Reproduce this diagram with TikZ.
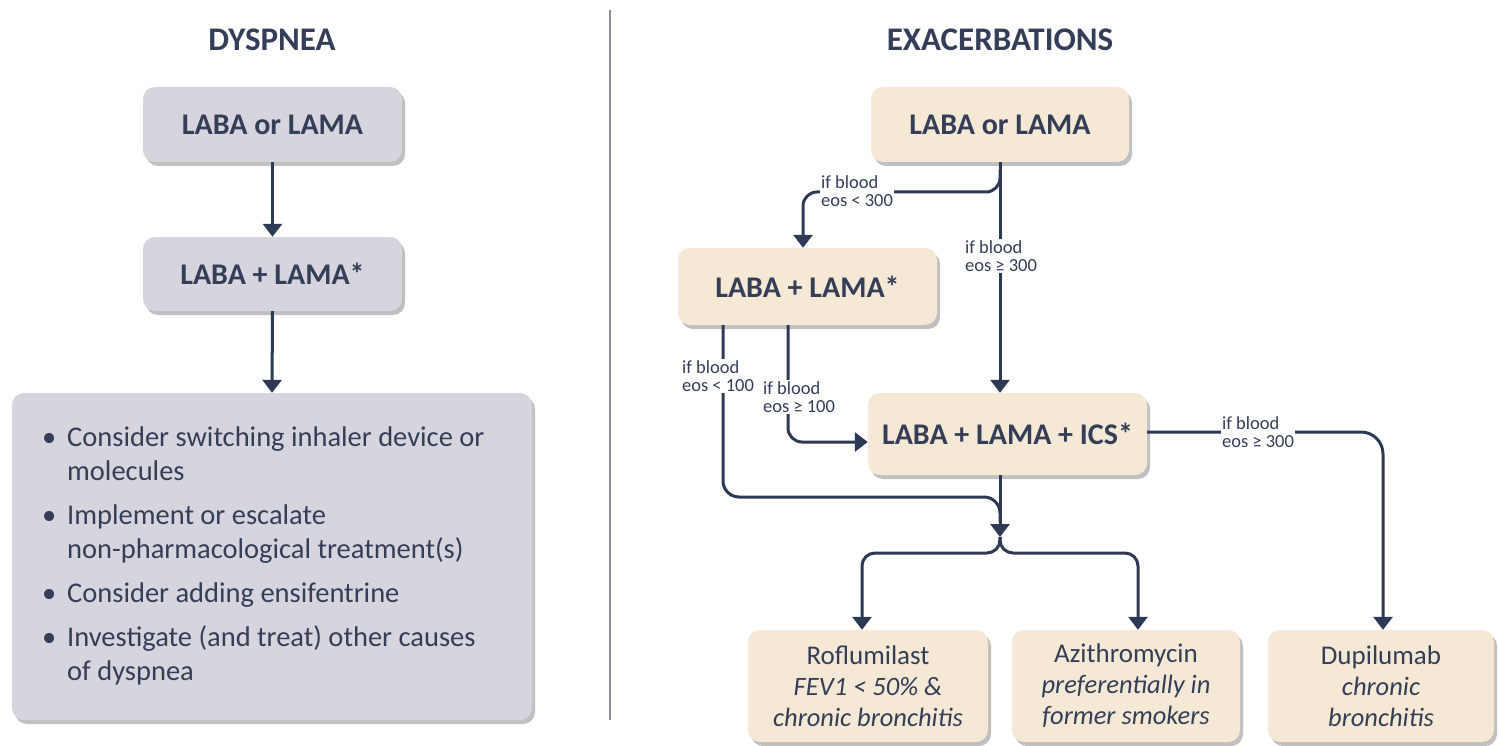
\documentclass[tikz,border=0pt]{standalone}
\usepackage{fontspec}
\setmainfont{Carlito}
\usetikzlibrary{arrows.meta,shadows}
\definecolor{navy}{HTML}{2D3A56}
\definecolor{txt}{HTML}{343E58}
\definecolor{grayfill}{HTML}{D6D4DC}
\definecolor{beige}{HTML}{F5E8D4}
\definecolor{sep}{HTML}{8A8F9C}
\begin{document}
\begin{tikzpicture}[x=1pt,y=-1pt,
  box/.style={rounded corners=12pt, text=txt, inner sep=0pt,
    drop shadow={shadow xshift=3pt, shadow yshift=-4pt, opacity=.35, fill=black!70}},
  gbox/.style={box, fill=grayfill},
  bbox/.style={box, fill=beige},
  head/.style={font=\bfseries\fontsize{30}{32}\selectfont},
  leaf/.style={bbox, align=center, font=\fontsize{27}{31}\selectfont},
  title/.style={text=txt, font=\bfseries\fontsize{33}{34}\selectfont},
  conn/.style={draw=navy, line width=3pt},
  arr/.style={conn, -{Triangle[width=19pt,length=13pt]}},
  lbl/.style={fill=white, inner sep=1.5pt, align=left, text=txt, font=\fontsize{18.5}{17.5}\selectfont}]
\useasboundingbox (0,0) rectangle (1499,746);
\fill[white] (0,0) rectangle (1499,746);

% separator
\draw[sep, line width=1.5pt] (610,10) -- (610,720);

% titles
\node[title] (t1) at (272,40) {DYSPNEA};
\node[title] (t2) at (1000,40) {EXACERBATIONS};

% left column
\node[gbox, head, minimum width=259pt, minimum height=75pt] (L1) at (272.5,124.5) {LABA or LAMA};
\node[gbox, head, minimum width=259pt, minimum height=74pt] (L2) at (272.5,274) {LABA + LAMA*};
\node[gbox, minimum width=520pt, minimum height=327pt] (L3) at (272,556.5) {};
\node[anchor=west, inner sep=0pt, text=txt, font=\fontsize{28.5}{34}\selectfont] (L3t) at (42,557)
{\begin{tabular}{@{}p{25pt}@{}l@{}}
\textbullet & Consider switching inhaler device or\\
 & molecules\\[10pt]
\textbullet & Implement or escalate\\
 & non-pharmacological treatment(s)\\[10pt]
\textbullet & Consider adding ensifentrine\\[10pt]
\textbullet & Investigate (and treat) other causes\\
 & of dyspnea
\end{tabular}};
\draw[arr] (L1.south) -- (L2.north);
\draw[arr] (L2.south) -- (L3.north);

% right column nodes
\node[bbox, head, minimum width=258pt, minimum height=75pt] (R1) at (1000,124.5) {LABA or LAMA};
\node[bbox, head, minimum width=259pt, minimum height=77pt] (R2) at (807.5,286.5) {LABA + LAMA*};
\node[bbox, head, minimum width=279pt, minimum height=82pt] (R3) at (1007.5,434) {LABA + LAMA + ICS*};
\node[leaf, minimum width=240pt, minimum height=112pt] (B1) at (868,686)
  {Roflumilast\\{\fontsize{26.5}{31}\selectfont\itshape FEV1 < 50\% \&}\\{\fontsize{26.5}{31}\selectfont\itshape chronic bronchitis}};
\node[leaf, minimum width=228pt, minimum height=112pt] (B2) at (1126,686)
  {Azithromycin\\{\fontsize{26.5}{31}\selectfont\itshape preferentially in}\\{\fontsize{26.5}{31}\selectfont\itshape former smokers}};
\node[leaf, minimum width=226pt, minimum height=112pt] (B3) at (1381,686)
  {Dupilumab\\{\fontsize{26.5}{31}\selectfont\itshape chronic}\\{\fontsize{26.5}{31}\selectfont\itshape bronchitis}};

% helper coordinates
\coordinate (cA) at (723,0);
\coordinate (cB) at (788,0);
\coordinate (cM) at (1000,0);
\coordinate (cL) at (862,0);
\coordinate (cR) at (1138,0);
\coordinate (cD) at (1383,0);
\coordinate (b1) at (1000,170);
\coordinate (k1) at (803,192);
\coordinate (k2) at (1000,497);
\coordinate (k3) at (1000,522);
\coordinate (J) at (1000,537);
\coordinate (kl) at (862,553);
\coordinate (kr) at (1138,553);

% connectors
\draw[arr] (R1.south -| cM) -- (R3.north -| cM);
\draw[arr, rounded corners=14pt] (b1) |- (k1) -- (R2.north -| k1);
\draw[conn, rounded corners=16pt] (R2.south -| cA) |- (k2) -- (k3);
\draw[arr, rounded corners=14pt] (R2.south -| cB) |- ([yshift=-8pt]R3.west);
\draw[arr] (R3.south -| cM) -- (J);
\draw[arr, rounded corners=13pt] (J) |- (kl) -- (B1.north -| cL);
\draw[arr, rounded corners=13pt] (J) |- (kr) -- (B2.north -| cR);
\draw[arr, rounded corners=22pt] ([yshift=2pt]R3.east) -| (B3.north -| cD);

% labels
\node[lbl] (l1) at (857,191) {if blood\\eos < 300};
\node[lbl] (l2) at (1001,256) {if blood\\eos ≥ 300};
\node[lbl] (l3) at (718,376) {if blood\\eos < 100};
\node[lbl] (l4) at (799,397) {if blood\\eos ≥ 100};
\node[lbl] (l5) at (1258,432) {if blood\\eos ≥ 300};
\end{tikzpicture}
\end{document}
